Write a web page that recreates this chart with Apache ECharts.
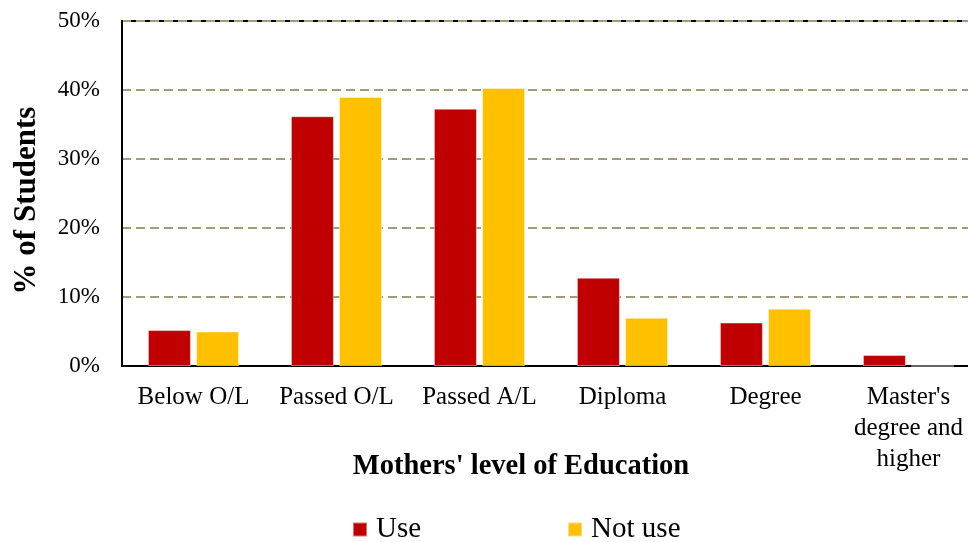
<!DOCTYPE html>
<html>
<head>
<meta charset="utf-8">
<script src="https://cdn.jsdelivr.net/npm/echarts@6/dist/echarts.min.js"></script>
<style>
html,body{margin:0;padding:0;background:#fff;}
#chart{width:968px;height:542px;}
</style>
</head>
<body>
<div id="chart"></div>
<script>
const categories = ["Below O/L", "Passed O/L", "Passed A/L", "Diploma", "Degree", "Master's\ndegree and\nhigher"];
const useValues = [5.2, 36.2, 37.3, 12.8, 6.3, 1.6];
const notUseValues = [5.0, 39.0, 40.3, 7.0, 8.3, 0];
const yTicks = [0, 10, 20, 30, 40, 50];
const seriesNames = ["Use", "Not use"];
const xTitle = "Mothers' level of Education";
const yTitle = "% of Students";

const FONT = '"Liberation Serif", "Times New Roman", serif';
const chart = echarts.init(document.getElementById('chart'));
chart.setOption({
  animation: false,
  backgroundColor: '#ffffff',
  textStyle: { fontFamily: FONT, color: '#000' },
  grid: {
    left: 122, top: 21, width: 858, height: 345,
    outerBoundsMode: 'none', containLabel: false,
    show: true, borderColor: '#000', borderWidth: 2, backgroundColor: 'transparent'
  },
  legend: {
    data: seriesNames,
    left: 347, top: 510,
    icon: 'rect', itemWidth: 14, itemHeight: 14, itemGap: 146,
    textStyle: { fontFamily: FONT, fontSize: 29, color: '#000', padding: [0, 0, 0, 4] }
  },
  xAxis: {
    type: 'category',
    data: categories,
    axisLine: { lineStyle: { color: '#000', width: 2 } },
    axisTick: { show: false },
    axisLabel: { fontFamily: FONT, fontSize: 25, color: '#000', margin: 16, lineHeight: 31, interval: 0 }
  },
  yAxis: {
    type: 'value',
    min: yTicks[0], max: yTicks[yTicks.length - 1], interval: 10,
    name: yTitle,
    nameLocation: 'middle',
    nameGap: 80,
    nameTextStyle: { fontFamily: FONT, fontSize: 31, fontWeight: 'bold', color: '#000', padding: [0, 14, 0, 0] },
    axisLine: { show: true, lineStyle: { color: '#000', width: 2 } },
    axisTick: { show: false },
    axisLabel: { fontFamily: FONT, fontSize: 23, color: '#000', margin: 22, formatter: v => v + '%' },
    splitLine: { lineStyle: { color: '#A39C76', width: 2, type: [9, 5] } }
  },
  graphic: [{
    type: 'text',
    x: 521, y: 467,
    style: {
      text: xTitle, fontFamily: FONT, fontSize: 28.5, fontWeight: 'bold', fill: '#000',
      textAlign: 'center', textVerticalAlign: 'middle'
    }
  }],
  series: [
    {
      name: seriesNames[0], type: 'bar', data: useValues,
      barWidth: 43, barGap: '12%',
      itemStyle: { color: '#C00000', borderColor: 'rgba(255,255,255,0.45)', borderWidth: 1 }
    },
    {
      name: seriesNames[1], type: 'bar', data: notUseValues,
      barWidth: 43, barGap: '12%',
      itemStyle: { color: '#FFC000', borderColor: 'rgba(255,255,255,0.45)', borderWidth: 1 }
    }
  ]
});
</script>
</body>
</html>
